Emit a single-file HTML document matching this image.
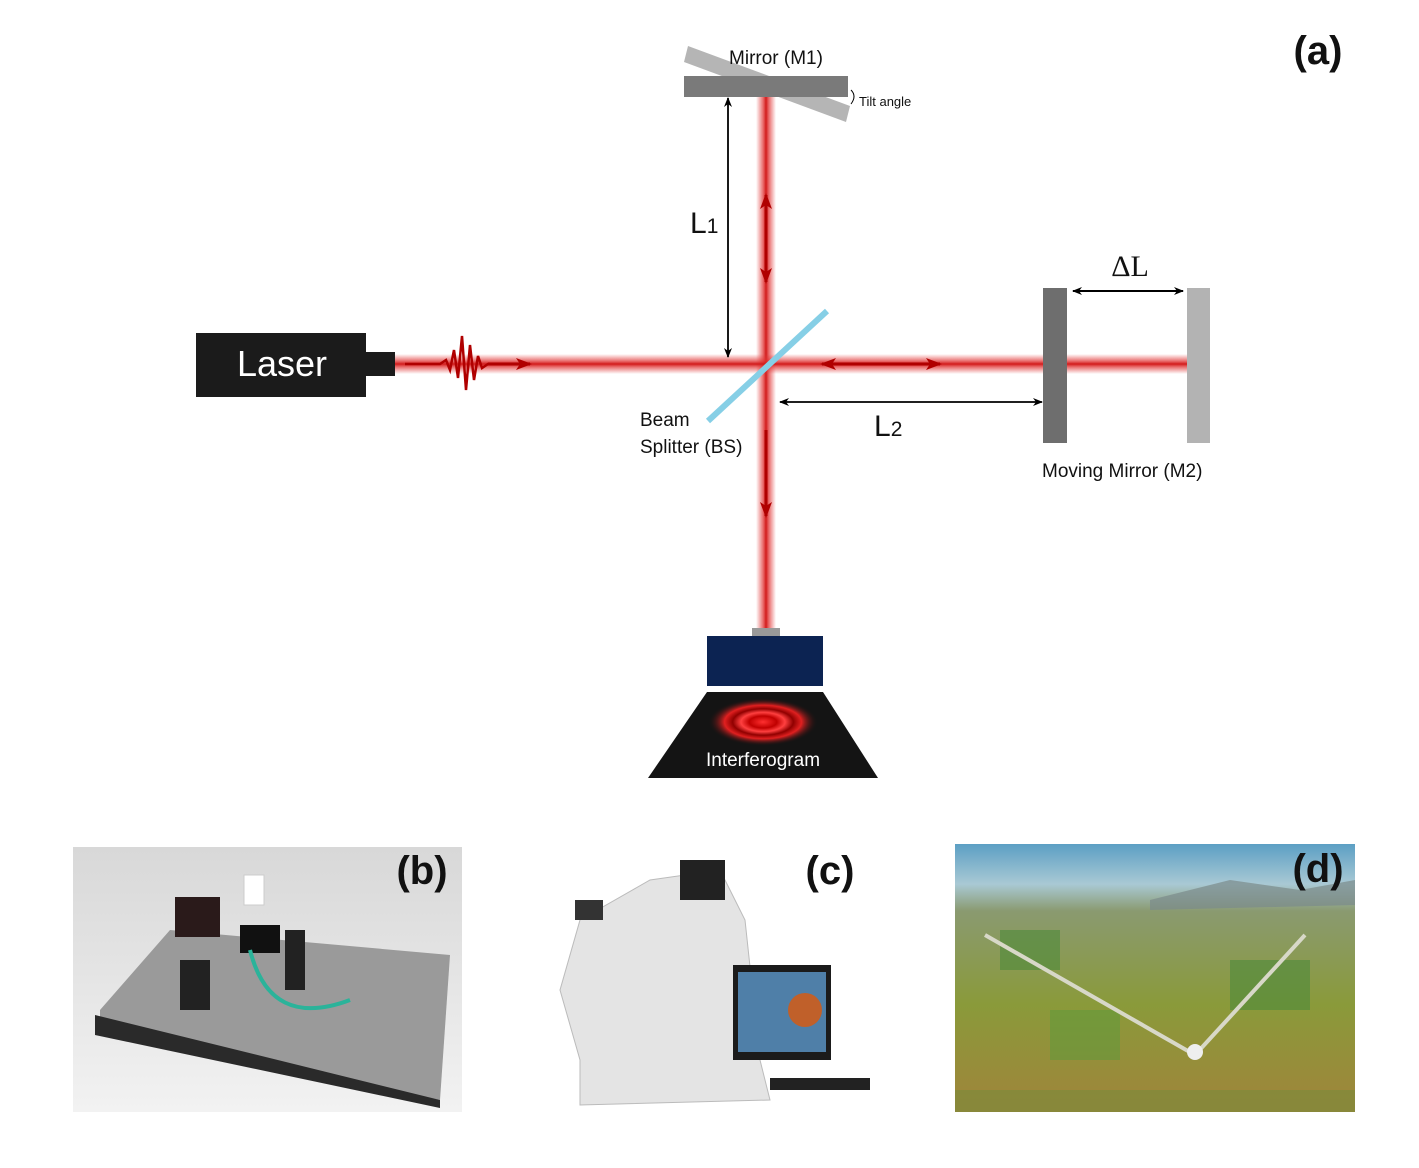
<!DOCTYPE html>
<html><head><meta charset="utf-8">
<style>
html,body{margin:0;padding:0;background:#fff;}
svg{display:block;font-family:"Liberation Sans","DejaVu Sans",sans-serif;}
</style></head>
<body>
<svg width="1419" height="1168" viewBox="0 0 1419 1168">
<defs>
<linearGradient id="vbeam" x1="0" x2="1" y1="0" y2="0">
<stop offset="0" stop-color="#e23b3b" stop-opacity="0"/>
<stop offset="0.35" stop-color="#e03030" stop-opacity="0.7"/>
<stop offset="0.5" stop-color="#d21a1a"/>
<stop offset="0.65" stop-color="#e03030" stop-opacity="0.7"/>
<stop offset="1" stop-color="#e23b3b" stop-opacity="0"/>
</linearGradient>
<linearGradient id="hbeam" x1="0" x2="0" y1="0" y2="1">
<stop offset="0" stop-color="#e23b3b" stop-opacity="0"/>
<stop offset="0.35" stop-color="#e03030" stop-opacity="0.7"/>
<stop offset="0.5" stop-color="#d21a1a"/>
<stop offset="0.65" stop-color="#e03030" stop-opacity="0.7"/>
<stop offset="1" stop-color="#e23b3b" stop-opacity="0"/>
</linearGradient>
<radialGradient id="ringglow" cx="0.5" cy="0.5" r="0.5">
<stop offset="0" stop-color="#ff3030"/>
<stop offset="0.25" stop-color="#c00000"/>
<stop offset="0.4" stop-color="#ff4040"/>
<stop offset="0.55" stop-color="#900000"/>
<stop offset="0.7" stop-color="#e02020"/>
<stop offset="1" stop-color="#111" stop-opacity="0"/>
</radialGradient>
<linearGradient id="tableb" x1="0" x2="0" y1="0" y2="1">
<stop offset="0" stop-color="#d8d8d8"/><stop offset="1" stop-color="#f2f2f2"/>
</linearGradient>
<linearGradient id="skyd" x1="0" x2="0" y1="0" y2="1">
<stop offset="0" stop-color="#5c9fc4"/><stop offset="0.15" stop-color="#a9c9d4"/>
<stop offset="0.25" stop-color="#8a9a70"/><stop offset="0.6" stop-color="#8a9a3a"/>
<stop offset="1" stop-color="#a0843a"/>
</linearGradient>
<marker id="ahB" markerWidth="10" markerHeight="8" refX="9" refY="4" orient="auto-start-reverse" markerUnits="userSpaceOnUse"><path d="M0,0 L10,4 L0,8 L3,4 z" fill="#000"/></marker>
<marker id="ahR" markerWidth="16" markerHeight="12" refX="14" refY="6" orient="auto-start-reverse" markerUnits="userSpaceOnUse"><path d="M0,0 L16,6 L0,12 L4,6 z" fill="#b00000"/></marker>
</defs>

<!-- Beams -->
<rect x="756" y="97" width="20" height="533" fill="url(#vbeam)"/>
<rect x="395" y="354" width="792" height="20" fill="url(#hbeam)"/>

<!-- Mirror M1 -->
<g>
<polygon points="688,46 850,106 846,122 684,62" fill="#b5b5b5"/>
<rect x="684" y="76" width="164" height="21" fill="#7a7a7a"/>
<text x="776" y="64" font-size="19" text-anchor="middle" fill="#111">Mirror (M1)</text>
<path d="M851,90 q6,6 0,14" stroke="#000" fill="none" stroke-width="1"/>
<text x="859" y="106" font-size="13" fill="#111">Tilt angle</text>
</g>

<!-- Laser -->
<g>
<rect x="196" y="333" width="170" height="64" fill="#1b1b1b"/>
<rect x="366" y="352" width="29" height="24" fill="#1b1b1b"/>
<text x="282" y="376" font-size="36" text-anchor="middle" fill="#fff">Laser</text>
</g>

<!-- Wave packet -->
<path d="M405,364 L440,364 L446,360 L450,370 L454,350 L458,378 L462,336 L466,390 L470,345 L474,380 L478,356 L482,368 L488,364 L520,364" stroke="#b00000" stroke-width="2.5" fill="none"/>
<line x1="488" y1="364" x2="530" y2="364" stroke="#b00000" stroke-width="3" marker-end="url(#ahR)"/>

<!-- red arrows -->
<line x1="766" y1="195" x2="766" y2="282" stroke="#b00000" stroke-width="3" marker-start="url(#ahR)" marker-end="url(#ahR)"/>
<line x1="822" y1="364" x2="940" y2="364" stroke="#b00000" stroke-width="3" marker-start="url(#ahR)" marker-end="url(#ahR)"/>
<line x1="766" y1="430" x2="766" y2="516" stroke="#b00000" stroke-width="3" marker-end="url(#ahR)"/>

<!-- Beam splitter -->
<line x1="708" y1="421" x2="827" y2="311" stroke="#86cfe6" stroke-width="6"/>
<text x="640" y="426" font-size="19" fill="#111">Beam</text>
<text x="640" y="453" font-size="19" fill="#111">Splitter (BS)</text>

<!-- L1 -->
<line x1="728" y1="98" x2="728" y2="357" stroke="#000" stroke-width="1.8" marker-start="url(#ahB)" marker-end="url(#ahB)"/>
<text x="690" y="233" font-size="30" fill="#111">L<tspan font-size="21">1</tspan></text>

<!-- L2 -->
<line x1="780" y1="402" x2="1042" y2="402" stroke="#000" stroke-width="1.8" marker-start="url(#ahB)" marker-end="url(#ahB)"/>
<text x="874" y="436" font-size="30" fill="#111">L<tspan font-size="21">2</tspan></text>

<!-- M2 -->
<g>
<rect x="1043" y="288" width="24" height="155" fill="#6e6e6e"/>
<rect x="1187" y="288" width="23" height="155" fill="#b3b3b3"/>
<line x1="1073" y1="291" x2="1183" y2="291" stroke="#000" stroke-width="2" marker-start="url(#ahB)" marker-end="url(#ahB)"/>
<text x="1130" y="276" font-size="30" text-anchor="middle" font-family="Liberation Serif,serif" fill="#111">ΔL</text>
<text x="1042" y="477" font-size="19" fill="#111">Moving Mirror (M2)</text>
</g>

<!-- Detector -->
<g>
<rect x="752" y="628" width="28" height="8" fill="#999"/>
<rect x="707" y="636" width="116" height="50" fill="#0c2352"/>
<polygon points="707,692 823,692 878,778 648,778" fill="#141414"/>
<ellipse cx="763" cy="722" rx="55" ry="24" fill="url(#ringglow)"/>
<text x="763" y="766" font-size="19" text-anchor="middle" fill="#fff">Interferogram</text>
</g>

<text x="1318" y="64" font-size="40" font-weight="bold" text-anchor="middle" fill="#111">(a)</text>

<!-- Panel b -->
<g>
<rect x="73" y="847" width="389" height="265" fill="url(#tableb)"/>
<polygon points="100,1010 170,930 450,955 440,1100 100,1030" fill="#9a9a9a"/>
<polygon points="95,1015 440,1100 440,1108 95,1035" fill="#2a2a2a"/>
<rect x="175" y="897" width="45" height="40" fill="#2a1a1a"/>
<rect x="240" y="925" width="40" height="28" fill="#111"/>
<rect x="180" y="960" width="30" height="50" fill="#222"/>
<rect x="285" y="930" width="20" height="60" fill="#222"/>
<path d="M250,950 q20,80 100,50" stroke="#2bb39a" stroke-width="4" fill="none"/>
<rect x="244" y="875" width="20" height="30" fill="#fff" stroke="#ccc"/>
<text x="422" y="884" font-size="40" font-weight="bold" text-anchor="middle" fill="#111">(b)</text>
</g>

<!-- Panel c -->
<g>
<path d="M560,990 L580,920 L650,880 L720,870 L745,920 L760,1060 L770,1100 L580,1105 L580,1060 Z" fill="#e4e4e4" stroke="#bbb"/>
<rect x="680" y="860" width="45" height="40" fill="#222"/>
<rect x="733" y="965" width="98" height="95" fill="#1b1b1b"/>
<rect x="738" y="972" width="88" height="80" fill="#4f7fa8"/>
<circle cx="805" cy="1010" r="17" fill="#c0602a"/>
<rect x="770" y="1078" width="100" height="12" fill="#222"/>
<rect x="575" y="900" width="28" height="20" fill="#333"/>
<text x="830" y="884" font-size="40" font-weight="bold" text-anchor="middle" fill="#111">(c)</text>
</g>

<!-- Panel d -->
<g>
<rect x="955" y="844" width="400" height="268" fill="url(#skyd)"/>
<polygon points="1150,900 1230,880 1300,890 1355,880 1355,905 1150,910" fill="#7a8a8a" opacity="0.7"/>
<rect x="1000" y="930" width="60" height="40" fill="#4c8a3a" opacity="0.6"/>
<rect x="1230" y="960" width="80" height="50" fill="#4c8a3a" opacity="0.6"/>
<rect x="1050" y="1010" width="70" height="50" fill="#5a9a3a" opacity="0.5"/>
<line x1="985" y1="935" x2="1195" y2="1055" stroke="#d8d8c8" stroke-width="4"/>
<line x1="1195" y1="1055" x2="1305" y2="935" stroke="#d8d8c8" stroke-width="4"/>
<circle cx="1195" cy="1052" r="8" fill="#eee"/>
<rect x="955" y="1090" width="400" height="22" fill="#7a8a3a" opacity="0.6"/>
<text x="1318" y="882" font-size="40" font-weight="bold" text-anchor="middle" fill="#111">(d)</text>
</g>
</svg>
</body></html>
